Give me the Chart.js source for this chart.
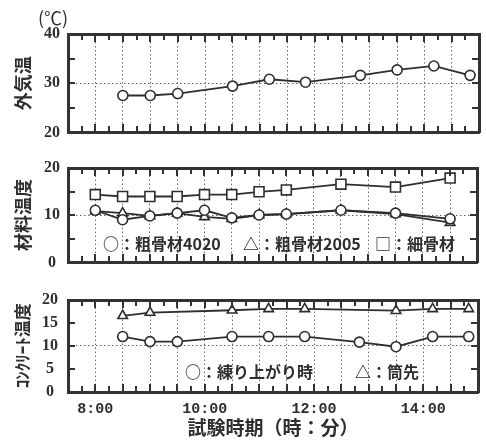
<!DOCTYPE html>
<html><head><meta charset="utf-8">
<script src="https://cdn.jsdelivr.net/npm/chart.js@4"></script>
<style>
html,body{margin:0;padding:0;background:#fff;}
#wrap{position:relative;width:486px;height:440px;overflow:hidden;}
canvas{position:absolute;left:0;}
</style></head><body>
<div id="wrap">
<canvas id="c1" width="486" height="150" style="top:0px"></canvas>
<canvas id="c2" width="486" height="130" style="top:150px"></canvas>
<canvas id="c3" width="486" height="160" style="top:280px"></canvas>
</div>
<script>
// ---- data ----
const timesA = [8.5, 9, 9.5, 10.5, 11.17, 11.83, 12.83, 13.5, 14.17, 14.83];
const timesB = [8, 8.5, 9, 9.5, 10, 10.5, 11, 11.5, 12.5, 13.5, 14.5];
const outsideTemp = [27.5, 27.5, 27.9, 29.4, 30.8, 30.2, 31.6, 32.7, 33.5, 31.6];
const fineAgg = [14.3, 13.9, 13.9, 13.9, 14.3, 14.3, 14.9, 15.3, 16.5, 15.9, 17.8];
const coarse4020 = [11.0, 9.0, 9.8, 10.4, 11.0, 9.4, 10.0, 10.2, 11.0, 10.4, 9.2];
const coarse2005 = [10.8, 10.4, 9.8, 10.4, 9.6, 9.2, 10.0, 10.2, 11.0, 10.2, 8.4];
const mixTemp = [12.0, 10.9, 10.9, 12.0, 12.0, 12.0, 10.8, 9.8, 12.0, 12.0];
const dischargeTemp = [16.5, 17.2, null, 17.7, 18.0, 18.0, null, 17.6, 18.0, 18.0];
const xTickHours = [8, 10, 12, 14];
const yTitles = ['外気温', '材料温度', 'ｺﾝｸﾘｰﾄ温度'];
const xTitle = '試験時期（時：分）';
const unitLabel = '(℃)';
const legend2 = ['○：粗骨材4020', '△：粗骨材2005', '□：細骨材'];
const legend3 = ['○：練り上がり時', '△：筒先'];

// ---- styles ----
const INK = '#2e2e2e';
const GRID = '#666';
const TICKFONT = {family: "'Liberation Serif', serif", size: 16, weight: 'bold'};
const JPFONT = "'Noto Sans CJK JP', sans-serif";
const LEGFONT = "bold 16px " + JPFONT;

function pts(xs, ys) { return xs.map((x, i) => ({x: x, y: ys[i]})); }

function ds(data, style, r) {
  return {data: data, borderColor: INK, borderWidth: 1.8, backgroundColor: '#fff',
    pointStyle: style, pointRadius: r, pointHoverRadius: r, pointBorderWidth: 1.6,
    pointBackgroundColor: '#fff', pointBorderColor: INK, spanGaps: true, tension: 0, fill: false};
}

function makePlugins(items) {
  return [{
    id: 'frameAndText',
    afterDraw(chart) {
      const ctx = chart.ctx, a = chart.chartArea;
      const L = Math.round(a.left), R = Math.round(a.right), T = Math.round(a.top), B = Math.round(a.bottom);
      ctx.save();
      ctx.setLineDash([]);
      ctx.globalAlpha = 1;
      ctx.fillStyle = '#333';
      // frame
      ctx.fillRect(L - 1, T - 1, R - L + 2, 3);
      ctx.fillRect(L - 1, B - 1, R - L + 2, 3);
      ctx.fillRect(L - 1, T - 1, 3, B - T + 2);
      ctx.fillRect(R - 1, T - 1, 3, B - T + 2);
      // inward ticks every 15 min (x) and every 5 units (y)
      const W = R - L, H = B - T;
      for (let k = 1; k < 30; k++) {
        const px = Math.round(L + W * k / 30);
        const len = (k % 2 === 0) ? 8 : 6;
        ctx.fillRect(px - 1, T, 2, len);
        ctx.fillRect(px - 1, B - len, 2, len);
      }
      for (let k = 1; k < 4; k++) {
        const py = Math.round(T + H * k / 4);
        ctx.fillRect(L, py - 1, 7, 2);
        ctx.fillRect(R - 7, py - 1, 7, 2);
      }
      // texts
      ctx.fillStyle = INK;
      ctx.textBaseline = 'middle';
      ctx.textAlign = 'left';
      items.forEach(it => {
        ctx.font = it.font;
        ctx.fillText(it.text, it.x, it.y);
      });
      ctx.restore();
    }
  }];
}

function makeOptions(cfg) {
  return {
    responsive: false, animation: false, devicePixelRatio: 1,
    layout: {padding: {top: cfg.padTop, right: 5, left: 0, bottom: 0}},
    plugins: {legend: {display: false}, tooltip: {enabled: false}},
    scales: {
      x: {
        type: 'linear', min: 7.5, max: 15,
        afterFit: s => { s.height = cfg.xHeight; },
        border: {display: false, dash: [1.5, 2.5]},
        grid: {drawTicks: false, lineWidth: 1,
          color: c => (c.tick && c.tick.value > 7.6 && c.tick.value < 14.9) ? GRID : 'rgba(0,0,0,0)'},
        ticks: {display: cfg.showX, stepSize: 0.5, autoSkip: false, maxRotation: 0, padding: 8,
          color: INK, font: {family: "'Liberation Mono', monospace", size: 15, weight: 'bold'},
          callback: v => xTickHours.includes(v) ? (v + ':00') : ''},
        title: cfg.showX ? {display: true, text: xTitle, color: INK,
          font: {family: JPFONT, size: 19, weight: 'bold'}, padding: {top: 0, bottom: 1}} : {display: false}
      },
      y: {
        min: cfg.ymin, max: cfg.ymax,
        afterFit: s => { s.width = 68; },
        border: {display: false, dash: [1.5, 2.5]},
        grid: {drawTicks: false, lineWidth: 1,
          color: c => (c.tick && c.tick.value === cfg.gridAt) ? GRID : 'rgba(0,0,0,0)'},
        ticks: {stepSize: cfg.ystep, padding: cfg.yPad, crossAlign: 'center', color: INK, font: TICKFONT},
        title: {display: true, text: cfg.yTitle, color: INK,
          font: {family: JPFONT, size: cfg.yTitleSize, weight: 'bold'}, padding: {top: 12, bottom: 0}}
      }
    }
  };
}

// Panel 1: outside temperature
new Chart(document.getElementById('c1'), {
  type: 'line',
  data: {datasets: [ds(pts(timesA, outsideTemp), 'circle', 5)]},
  options: makeOptions({padTop: 34, xHeight: 12, showX: false, ymin: 20, ymax: 40, ystep: 10,
    gridAt: 30, yPad: 8, yTitle: yTitles[0], yTitleSize: 18}),
  plugins: makePlugins([
    {text: unitLabel, x: 38, y: 18, font: "18px " + JPFONT}
  ])
});

// Panel 2: material temperature
new Chart(document.getElementById('c2'), {
  type: 'line',
  data: {datasets: [
    ds(pts(timesB, fineAgg), 'rect', 7),
    ds(pts(timesB, coarse4020), 'circle', 5),
    ds(pts(timesB, coarse2005), 'triangle', 5.5)
  ]},
  options: makeOptions({padTop: 14, xHeight: 14, showX: false, ymin: 0, ymax: 20, ystep: 10,
    gridAt: 10, yPad: 8, yTitle: yTitles[1], yTitleSize: 18}),
  plugins: makePlugins([
    {text: legend2[0], x: 103, y: 94, font: LEGFONT},
    {text: legend2[1], x: 243, y: 94, font: LEGFONT},
    {text: legend2[2], x: 375, y: 94, font: LEGFONT}
  ])
});

// Panel 3: concrete temperature
new Chart(document.getElementById('c3'), {
  type: 'line',
  data: {datasets: [
    ds(pts(timesA, mixTemp), 'circle', 5),
    ds(pts(timesA, dischargeTemp), 'triangle', 5.5)
  ]},
  options: makeOptions({padTop: 12, xHeight: 48, showX: true, ymin: 0, ymax: 20, ystep: 5,
    gridAt: 10, yPad: 10, yTitle: yTitles[2], yTitleSize: 17}),
  plugins: makePlugins([
    {text: legend3[0], x: 185, y: 92, font: LEGFONT},
    {text: legend3[1], x: 355, y: 92, font: LEGFONT}
  ])
});
</script>
</body></html>
